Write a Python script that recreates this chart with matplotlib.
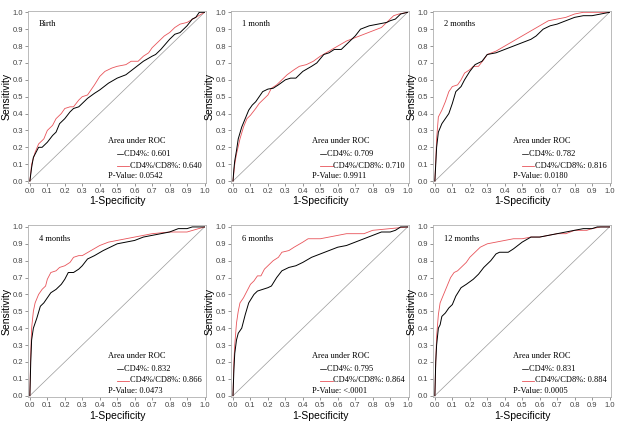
import matplotlib
matplotlib.use("Agg")
import matplotlib.pyplot as plt
import numpy as np

plt.rcParams['font.family'] = ['Liberation Sans', 'DejaVu Sans']

# panel titles and legend numbers
titles = ["Birth", "1 month", "2 months", "4 months", "6 months", "12 months"]
auc_cd4 = ["0.601", "0.709", "0.782", "0.832", "0.795", "0.831"]
auc_ratio = ["0.640", "0.710", "0.816", "0.866", "0.864", "0.884"]
pvals = ["0.0542", "0.9911", "0.0180", "0.0473", "<.0001", "0.0005"]

# ROC curves: (1-specificity, sensitivity)
birth_cd4 = [(0,0),(0.01,0.08),(0.02,0.14),(0.04,0.18),(0.05,0.2),(0.07,0.2),(0.1,0.23),(0.13,0.27),
             (0.15,0.29),(0.17,0.34),(0.2,0.37),(0.23,0.41),(0.25,0.43),(0.28,0.44),(0.3,0.46),(0.33,0.49),
             (0.37,0.52),(0.4,0.54),(0.45,0.58),(0.5,0.61),(0.55,0.63),(0.6,0.67),(0.65,0.71),(0.7,0.74),
             (0.72,0.75),(0.75,0.78),(0.8,0.84),(0.83,0.87),(0.86,0.88),(0.9,0.92),(0.93,0.96),(0.95,0.97),
             (0.97,1.0),(1,1)]
birth_ratio = [(0,0),(0.01,0.1),(0.03,0.17),(0.05,0.22),(0.08,0.25),(0.1,0.3),(0.13,0.33),(0.15,0.37),
               (0.18,0.4),(0.2,0.43),(0.23,0.44),(0.25,0.44),(0.28,0.48),(0.3,0.5),(0.33,0.51),(0.35,0.54),
               (0.37,0.57),(0.4,0.62),(0.43,0.65),(0.47,0.67),(0.5,0.68),(0.55,0.69),(0.58,0.71),(0.62,0.71),
               (0.65,0.74),(0.68,0.76),(0.7,0.79),(0.73,0.82),(0.77,0.86),(0.8,0.88),(0.83,0.91),(0.86,0.93),
               (0.9,0.94),(0.95,0.97),(1,1)]
m1_cd4 = [(0,0),(0.005,0.07),(0.01,0.12),(0.02,0.18),(0.03,0.25),(0.05,0.32),(0.07,0.37),(0.09,0.42),
          (0.11,0.45),(0.13,0.47),(0.15,0.5),(0.17,0.53),(0.2,0.545),(0.23,0.55),(0.26,0.57),(0.3,0.6),
          (0.33,0.61),(0.36,0.61),(0.4,0.65),(0.45,0.68),(0.48,0.7),(0.52,0.75),(0.55,0.76),(0.58,0.78),
          (0.62,0.78),(0.65,0.81),(0.7,0.86),(0.73,0.9),(0.78,0.92),(0.83,0.93),(0.88,0.94),(0.9,0.95),
          (0.93,0.96),(0.96,0.99),(1,1)]
m1_ratio = [(0,0),(0.005,0.05),(0.01,0.1),(0.02,0.16),(0.04,0.25),(0.06,0.32),(0.08,0.37),(0.1,0.39),
            (0.13,0.43),(0.15,0.46),(0.17,0.48),(0.2,0.51),(0.22,0.55),(0.25,0.57),(0.28,0.6),(0.31,0.63),
            (0.35,0.66),(0.38,0.68),(0.42,0.69),(0.46,0.71),(0.5,0.74),(0.55,0.77),(0.6,0.8),(0.65,0.83),
            (0.7,0.85),(0.75,0.87),(0.8,0.89),(0.85,0.91),(0.88,0.94),(0.92,0.98),(0.95,0.99),(1,1)]
m2_cd4 = [(0,0),(0.005,0.1),(0.01,0.2),(0.02,0.29),(0.04,0.34),(0.06,0.37),(0.08,0.4),(0.1,0.46),
          (0.12,0.53),(0.15,0.56),(0.17,0.6),(0.2,0.65),(0.23,0.69),(0.27,0.71),(0.3,0.75),(0.35,0.76),
          (0.4,0.78),(0.45,0.8),(0.5,0.82),(0.55,0.84),(0.58,0.86),(0.62,0.9),(0.66,0.92),(0.7,0.93),
          (0.75,0.95),(0.8,0.97),(0.85,0.98),(0.9,0.98),(0.95,0.99),(1,1)]
m2_ratio = [(0,0),(0.005,0.12),(0.01,0.25),(0.02,0.38),(0.04,0.42),(0.06,0.47),(0.08,0.53),(0.1,0.56),
            (0.13,0.57),(0.15,0.6),(0.17,0.64),(0.2,0.66),(0.22,0.68),(0.25,0.68),(0.28,0.72),(0.3,0.75),
            (0.35,0.77),(0.4,0.8),(0.45,0.83),(0.5,0.86),(0.55,0.89),(0.6,0.92),(0.65,0.95),(0.7,0.96),
            (0.75,0.97),(0.8,0.99),(0.85,1.0),(1,1)]
m4_cd4 = [(0,0),(0.005,0.2),(0.01,0.33),(0.02,0.4),(0.04,0.46),(0.06,0.53),(0.08,0.55),(0.1,0.58),
          (0.12,0.61),(0.15,0.63),(0.18,0.66),(0.2,0.69),(0.22,0.73),(0.25,0.73),(0.28,0.75),(0.3,0.77),
          (0.33,0.81),(0.37,0.83),(0.42,0.86),(0.46,0.88),(0.5,0.9),(0.55,0.91),(0.6,0.92),(0.65,0.94),
          (0.7,0.95),(0.75,0.96),(0.8,0.97),(0.85,0.99),(0.9,0.99),(0.93,1.0),(1,1)]
m4_ratio = [(0,0),(0.005,0.25),(0.01,0.4),(0.02,0.5),(0.03,0.55),(0.05,0.6),(0.07,0.63),(0.09,0.65),
            (0.1,0.69),(0.12,0.73),(0.15,0.74),(0.17,0.76),(0.2,0.77),(0.23,0.79),(0.25,0.82),(0.28,0.83),
            (0.3,0.83),(0.35,0.86),(0.4,0.89),(0.45,0.91),(0.5,0.92),(0.55,0.93),(0.6,0.94),(0.65,0.95),
            (0.7,0.96),(0.8,0.97),(0.9,0.97),(1,1)]
m6_cd4 = [(0,0),(0.005,0.15),(0.01,0.25),(0.02,0.33),(0.03,0.37),(0.05,0.4),(0.07,0.48),(0.09,0.55),
          (0.12,0.6),(0.14,0.62),(0.17,0.63),(0.2,0.64),(0.22,0.65),(0.25,0.7),(0.28,0.74),(0.32,0.76),
          (0.36,0.77),(0.4,0.79),(0.45,0.82),(0.5,0.84),(0.55,0.86),(0.6,0.88),(0.65,0.89),(0.7,0.91),
          (0.75,0.93),(0.8,0.95),(0.85,0.97),(0.9,0.97),(0.93,0.98),(0.96,1.0),(1,1)]
m6_ratio = [(0,0),(0.005,0.2),(0.01,0.3),(0.02,0.43),(0.03,0.5),(0.04,0.55),(0.06,0.58),(0.08,0.62),
            (0.1,0.66),(0.12,0.68),(0.14,0.71),(0.16,0.71),(0.18,0.75),(0.2,0.77),(0.23,0.8),(0.26,0.82),
            (0.28,0.85),(0.32,0.86),(0.35,0.88),(0.4,0.91),(0.43,0.93),(0.5,0.93),(0.55,0.94),(0.6,0.95),
            (0.65,0.96),(0.7,0.96),(0.75,0.96),(0.8,0.98),(0.9,0.99),(1,1)]
m12_cd4 = [(0,0),(0.005,0.2),(0.01,0.3),(0.02,0.4),(0.03,0.42),(0.04,0.47),(0.06,0.49),(0.08,0.52),
           (0.1,0.54),(0.12,0.59),(0.15,0.64),(0.18,0.66),(0.22,0.69),(0.25,0.72),(0.28,0.76),(0.32,0.8),
           (0.35,0.84),(0.37,0.85),(0.42,0.85),(0.45,0.87),(0.5,0.91),(0.55,0.94),(0.6,0.94),(0.65,0.95),
           (0.7,0.96),(0.75,0.97),(0.8,0.98),(0.85,0.99),(0.9,0.99),(0.93,1.0),(1,1)]
m12_ratio = [(0,0),(0.005,0.2),(0.01,0.35),(0.02,0.48),(0.03,0.55),(0.05,0.6),(0.07,0.65),(0.09,0.7),
             (0.11,0.73),(0.13,0.74),(0.15,0.76),(0.18,0.79),(0.2,0.82),(0.23,0.85),(0.26,0.88),(0.3,0.9),
             (0.35,0.91),(0.4,0.92),(0.45,0.93),(0.5,0.93),(0.55,0.94),(0.6,0.94),(0.65,0.95),(0.7,0.96),
             (0.75,0.96),(0.8,0.98),(0.87,0.98),(0.9,0.99),(0.95,1.0),(1,1)]

curves_cd4 = [birth_cd4, m1_cd4, m2_cd4, m4_cd4, m6_cd4, m12_cd4]
curves_ratio = [birth_ratio, m1_ratio, m2_ratio, m4_ratio, m6_ratio, m12_ratio]

ticks = np.round(np.arange(0, 1.01, 0.1), 1)
tick_labels = ["%.1f" % t for t in ticks]

# axes boxes in figure fractions [left, bottom, width, height]
lefts = [0.045, 0.370, 0.693]
bottoms = [0.570, 0.065]
w, h = 0.285, 0.405

red = "#e8545a"
gray = "#9a9a9a"
serif = ['Liberation Serif', 'DejaVu Serif']

fig = plt.figure(figsize=(6.25, 4.25), dpi=100)

for i in range(6):
    ax = fig.add_axes([lefts[i % 3], bottoms[i // 3], w, h])
    c4 = np.array(curves_cd4[i])
    cr = np.array(curves_ratio[i])
    ax.plot([0, 1], [0, 1], color=gray, lw=0.5)
    ax.plot(cr[:, 0], cr[:, 1], color=red, lw=0.6)
    ax.plot(c4[:, 0], c4[:, 1], color="black", lw=0.7)
    ax.set_xlim(-0.01, 1.01)
    ax.set_ylim(-0.01, 1.01)
    ax.set_xticks(ticks)
    ax.set_xticklabels(tick_labels)
    ax.set_yticks(ticks)
    ax.set_yticklabels(tick_labels)
    ax.tick_params(labelsize=5.5, colors="#444444", length=2, width=0.4, pad=1.5)
    for s in ax.spines.values():
        s.set_color("#b0b0b0")
        s.set_linewidth(0.6)
    ax.set_xlabel("1-Specificity", fontsize=7.5, labelpad=1)
    ax.set_ylabel("Sensitivity", fontsize=7.5, labelpad=1)

    ax.text(0.05, 0.93, titles[i], fontsize=6, family=serif, va="center")
    ax.text(0.45, 0.235, "Area under ROC", fontsize=6, family=serif, va="center")
    ax.plot([0.5, 0.535], [0.16, 0.16], color="black", lw=0.5)
    ax.text(0.54, 0.16, "CD4%: " + auc_cd4[i], fontsize=6, family=serif, va="center")
    ax.plot([0.5, 0.57], [0.09, 0.09], color=red, lw=0.6)
    ax.text(0.575, 0.09, "CD4%/CD8%: " + auc_ratio[i], fontsize=6, family=serif, va="center")
    ax.text(0.45, 0.03, "P-Value: " + pvals[i], fontsize=6, family=serif, va="center")

fig.savefig("out.png", dpi=100)
